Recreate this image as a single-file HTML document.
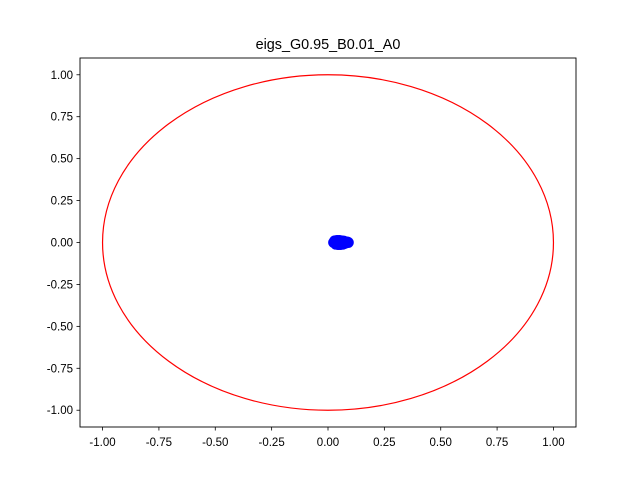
<!DOCTYPE html>
<html><head><meta charset="utf-8"><style>body{margin:0;background:#fff}svg{display:block;font-family:"Liberation Sans","DejaVu Sans",sans-serif}</style></head>
<body>
<svg id="chart" width="640" height="480">
<rect width="640" height="480" fill="#fff"/>
<text x="328" y="49" font-size="14.4" text-anchor="middle">eigs_G0.95_B0.01_A0</text>
<g id="plot"></g>
<rect x="80" y="58" width="496" height="369" fill="none" stroke="#000" stroke-width="0.9"/>
</svg>
<script>
const xTicks=[-1.0,-0.75,-0.5,-0.25,0,0.25,0.5,0.75,1.0];
const yTicks=[-1.0,-0.75,-0.5,-0.25,0,0.25,0.5,0.75,1.0];
const eigRe=[0.025,0.03,0.035,0.04,0.045,0.05,0.055,0.06,0.065,0.07,0.075,0.08,0.085,0.09,0.04,0.05,0.06,0.07,0.045,0.055,0.065];
const eigIm=[0,0.01,-0.01,0.012,-0.012,0.012,-0.012,0.01,-0.01,0.005,-0.005,0,0.003,0,0,0.008,-0.008,0.008,-0.01,0.01,-0.005];
const X=v=>80+(v+1.1)/2.2*496, Y=v=>427-(v+1.1)/2.2*369;
const ns="http://www.w3.org/2000/svg", svg=document.getElementById('chart'), g=document.getElementById('plot');
function mk(t,a,p){const e=document.createElementNS(ns,t);for(const k in a)e.setAttribute(k,a[k]);(p||g).appendChild(e);return e;}
const fmt=v=>v.toFixed(2);
xTicks.forEach(v=>{
  const l=mk('line',{x1:X(v),x2:X(v),y1:427,y2:430.5,stroke:'#000','stroke-width':0.8},svg);
  
  
  const t=mk('text',{x:X(v),y:446,'font-size':11.5,'text-anchor':'middle'},svg);t.textContent=fmt(v);
  
  
});
yTicks.forEach(v=>{
  const l=mk('line',{x1:76.5,x2:80,y1:Y(v),y2:Y(v),stroke:'#000','stroke-width':0.8},svg);
  
  
  const t=mk('text',{x:73,y:Y(v)+4,'font-size':11.5,'text-anchor':'end'},svg);t.textContent=fmt(v);
  
  
});
const c=mk('ellipse',{cx:X(0),cy:Y(0),rx:X(1)-X(0),ry:Y(0)-Y(1),fill:'none',stroke:'red','stroke-width':1.2});


eigRe.forEach((r,i)=>{
  const p=mk('circle',{cx:X(r),cy:Y(eigIm[i]),r:5.5,fill:'blue'});
  
  
});
</script>
</body></html>
